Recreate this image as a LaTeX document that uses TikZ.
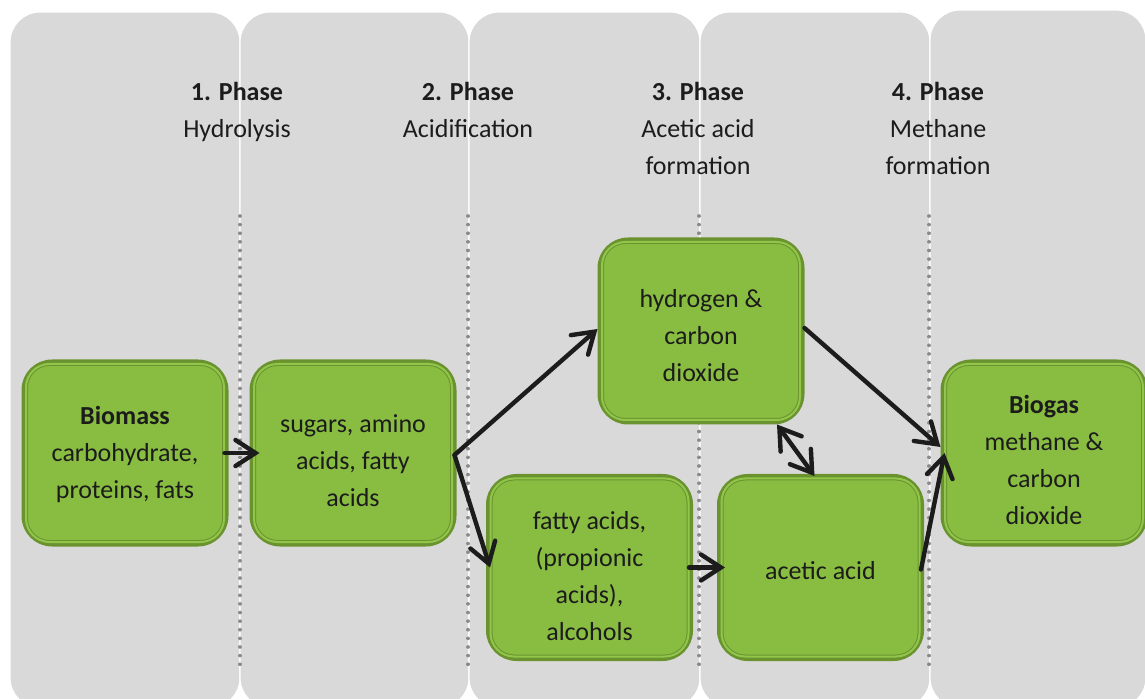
\documentclass[tikz,border=0pt]{standalone}
\usepackage{fontspec}
\setmainfont{Carlito}
\usepackage{tikz}
\usetikzlibrary{arrows.meta}

\definecolor{boxfill}{HTML}{89BD41}
\definecolor{boxgap}{HTML}{92C64A}
\definecolor{boxline}{HTML}{6A932F}
\definecolor{colfill}{HTML}{D9D9D9}
\definecolor{dotgray}{HTML}{8A8A8A}
\definecolor{ink}{HTML}{1C1C1C}

\begin{document}
\begin{tikzpicture}[x=0.5pt,y=-0.5pt,
    phase/.style={fill=colfill,draw=white,line width=0.6pt,rounded corners=15pt},
    divider/.style={draw=dotgray,line width=1.8pt,line cap=round,dash pattern=on 0.01pt off 4.3pt},
    stage/.style={draw=boxline,fill=boxfill,line width=2.5pt,rounded corners=14pt,
      minimum width=101pt,minimum height=91pt,inner sep=0pt,align=center,text=ink,
      font=\fontsize{13}{18.5}\selectfont,text depth=0pt},
    rim/.style={draw=boxline,line width=0.5pt,double=boxgap,double distance=1pt,
      rounded corners=11.75pt},
    flow/.style={ink,line width=2.2pt,line cap=round,
      -{Straight Barb[length=10pt,width=13pt,line cap=round]}},
    title/.style={align=center,text=ink,font=\fontsize{13}{18.5}\selectfont}]
    \useasboundingbox (0,0) rectangle (1145,699);
    \clip (0,0) rectangle (1145,699);

    % phase columns
    \draw [phase] (10,12) rectangle (240,708);
    \draw [phase] (240,12) rectangle (469,708);
    \draw [phase] (469,12) rectangle (700,708);
    \draw [phase] (700,12) rectangle (930,708);
    \draw [phase] (930,10) rectangle (1146,708);
    \foreach \x in {240,468,699,929}
      \draw [divider] (\x,216) -- (\x,672);

    \node [title] (p1) at (237,111.5) {\textbf{1. Phase}\\Hydrolysis};
    \node [title] (p2) at (468,109.5) {\textbf{2. Phase}\\Acidification};
    \node [title] (p3) at (698,128) {\textbf{3. Phase}\\Acetic acid\\formation};
    \node [title] (p4) at (938,128) {\textbf{4. Phase}\\Methane\\formation};

    % substances
    \node [stage,text height=45.5pt] (bio) at (125,453) {\textbf{Biomass}\\carbohydrate,\\proteins, fats};
    \node [stage,text height=53.3pt] (sug) at (353,453) {sugars, amino\\acids, fatty\\acids};
    \node [stage,text height=50.7pt] (hyd) at (701,331) {hydrogen \&\\carbon\\dioxide};
    \node [stage,text height=73.2pt] (fat) at (589.5,567.5) {fatty acids,\\(propionic\\acids),\\alcohols};
    \node [stage,text height=11.5pt] (ace) at (820.5,567.5) {acetic acid};
    \node [stage,text height=71.7pt] (gas) at (1044,453) {\textbf{Biogas}\\methane \&\\carbon\\dioxide};
    \foreach \n in {bio,sug,hyd,fat,ace,gas}
      \draw [rim] ([xshift=2.25pt,yshift=2.25pt]\n.south west) rectangle ([xshift=-2.25pt,yshift=-2.25pt]\n.north east);

    \draw [flow] ([xshift=-2pt]bio.east) -- ([xshift=5pt]sug.west);
    \draw [flow] ([xshift=-1pt,yshift=-1pt]sug.east) -- ([yshift=1pt]hyd.west);
    \draw [flow] ([xshift=-1pt,yshift=-1pt]sug.east) -- ([xshift=2pt]fat.west);
    \draw [flow] ([xshift=-2pt]fat.east) -- ([xshift=4pt]ace.west);
    \draw [flow,{Straight Barb[length=10pt,width=13pt,line cap=round]}-{Straight Barb[length=10pt,width=13pt,line cap=round]}] ([xshift=38pt]hyd.south) -- ([xshift=-3pt,yshift=-1pt]ace.north);
    \draw [flow] ([yshift=1.5pt]hyd.east) -- ([yshift=3pt]gas.west);
    \draw [flow] ([xshift=-1.5pt,yshift=-1pt]ace.east) -- ([xshift=2pt]gas.west);
\end{tikzpicture}
\end{document}
